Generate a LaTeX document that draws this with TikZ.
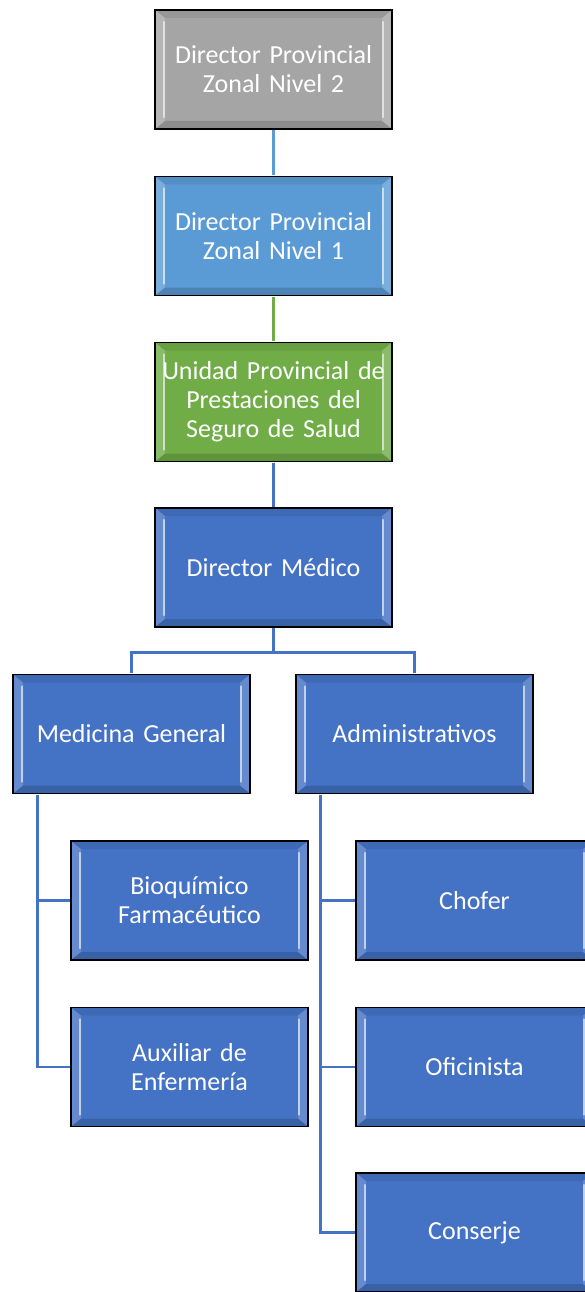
\documentclass[tikz,border=0pt]{standalone}
\usepackage{fontspec}
\setmainfont{Carlito}
\definecolor{cgray}{HTML}{A5A5A5}
\definecolor{clblue}{HTML}{5B9BD5}
\definecolor{cgreen}{HTML}{70AD47}
\definecolor{cblue}{HTML}{4472C4}
\tikzset{
  orgbox/.style={draw=black, line width=1.3pt, fill=#1,
    minimum width=237pt, minimum height=119pt, inner sep=0pt,
    text width=235pt, align=center, text=white,
    font=\fontsize{26}{29}\selectfont,
    path picture={
      \coordinate (pa) at (path picture bounding box.north west);
      \coordinate (pb) at (path picture bounding box.south east);
      \fill[black,opacity=0.08] (pa) -- (pa -| pb) -- ([xshift=-10pt,yshift=-8pt]pa -| pb) -- ([xshift=10pt,yshift=-8pt]pa) -- cycle;
      \fill[black,opacity=0.15] (pb) -- (pb -| pa) -- ([xshift=10pt,yshift=8pt]pb -| pa) -- ([xshift=-10pt,yshift=8pt]pb) -- cycle;
      \fill[white,opacity=0.18] (pa) -- ([xshift=10pt,yshift=-8pt]pa) -- ([xshift=10pt,yshift=8pt]pb -| pa) -- (pb -| pa) -- cycle;
      \fill[white,opacity=0.18] (pb) -- ([xshift=-10pt,yshift=8pt]pb) -- ([xshift=-10pt,yshift=-8pt]pa -| pb) -- (pa -| pb) -- cycle;
      \draw[white,opacity=0.6,line width=2.5pt,line cap=round] ([xshift=9pt,yshift=-12pt]pa) -- ([xshift=9pt,yshift=12pt]pb -| pa);
      \draw[white,opacity=0.6,line width=2.5pt,line cap=round] ([xshift=-9pt,yshift=12pt]pb) -- ([xshift=-9pt,yshift=-12pt]pa -| pb);
    }},
  link/.style={draw=cblue, line width=2.4pt, shorten <=0.65pt, shorten >=0.65pt},
}
\begin{document}
\begin{tikzpicture}[x=1pt,y=-1pt]
\useasboundingbox (0,0) rectangle (584,1292);
\node[orgbox=cgray] (n1) at (273.5,69.5) {Director Provincial\\Zonal Nivel 2};
\node[orgbox=clblue] (n2) at (273.5,236) {Director Provincial\\Zonal Nivel 1};
\node[orgbox=cgreen] (n3) at (273.5,402) {Unidad Provincial de\\Prestaciones del\\Seguro de Salud};
\node[orgbox=cblue] (dm) at (273.5,567.5) {Director Médico};
\node[orgbox=cblue] (mg) at (131.5,734) {Medicina General};
\node[orgbox=cblue] (ad) at (414.5,734) {Administrativos};
\node[orgbox=cblue] (bio) at (189.5,900.5) {Bioquímico\\Farmacéutico};
\node[orgbox=cblue] (aux) at (189.5,1067) {Auxiliar de\\Enfermería};
\node[orgbox=cblue] (cho) at (474.5,900.5) {Chofer};
\node[orgbox=cblue] (ofi) at (474.5,1067) {Oficinista};
\node[orgbox=cblue] (con) at (474.5,1232.5) {Conserje};
\draw[link,draw=clblue] (n1) -- (n2);
\draw[link,draw=cgreen] (n2) -- (n3);
\draw[link] (n3) -- (dm);
\draw[link] (dm.south) -- ++(0,25) -| (mg.north);
\draw[link] (dm.south) -- ++(0,25) -| (ad.north);
\draw[link] ([xshift=25pt]mg.south west) |- (bio.west);
\draw[link] ([xshift=25pt]mg.south west) |- (aux.west);
\draw[link] ([xshift=25pt]ad.south west) |- (cho.west);
\draw[link] ([xshift=25pt]ad.south west) |- (ofi.west);
\draw[link] ([xshift=25pt]ad.south west) |- (con.west);
\end{tikzpicture}
\end{document}
